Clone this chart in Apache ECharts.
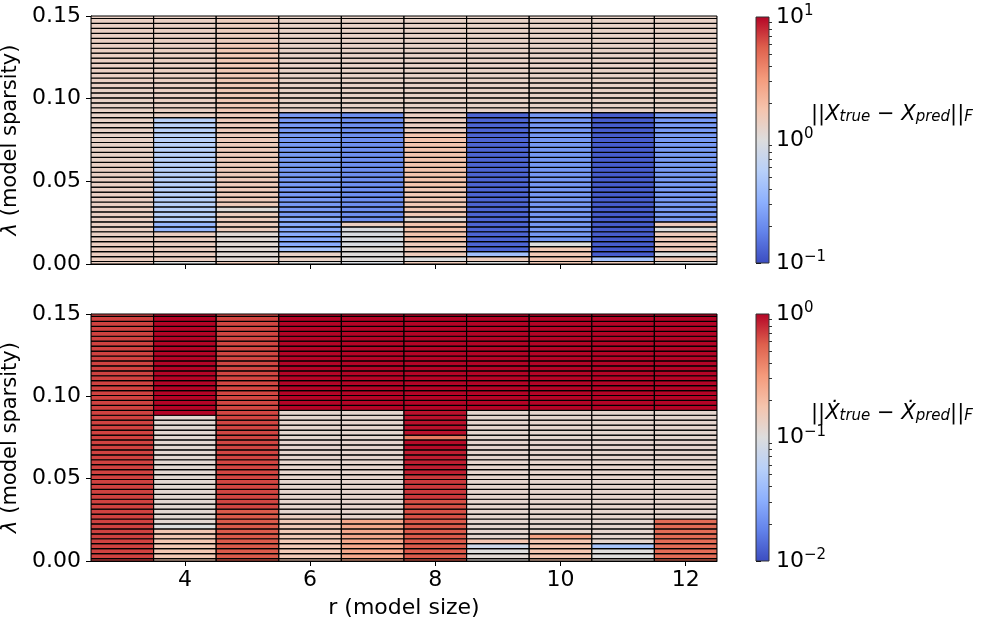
<!DOCTYPE html>
<html>
<head>
<meta charset="utf-8">
<script src="https://cdn.jsdelivr.net/npm/echarts@6/dist/echarts.min.js"></script>
<style>
  html, body { margin: 0; padding: 0; background: #fff; }
  #chart { width: 984px; height: 619px; }
</style>
</head>
<body>
<div id="chart"></div>
<script>
// model sizes (columns) and sparsity values (rows)
var rValues = [3, 4, 5, 6, 7, 8, 9, 10, 11, 12];
var lambdas = [0, 0.003, 0.006, 0.009, 0.012, 0.015, 0.018, 0.021, 0.024, 0.027,
  0.030, 0.033, 0.036, 0.039, 0.042, 0.045, 0.048, 0.051, 0.054, 0.057,
  0.060, 0.063, 0.066, 0.069, 0.072, 0.075, 0.078, 0.081, 0.084, 0.087,
  0.090, 0.093, 0.096, 0.099, 0.102, 0.105, 0.108, 0.111, 0.114, 0.117,
  0.120, 0.123, 0.126, 0.129, 0.132, 0.135, 0.138, 0.141, 0.144, 0.147, 0.150];

// ||X_true - X_pred||_F, one list per r: [first lambda index, last lambda index, error]
var errXRuns = [
  [[0, 4, 1.4], [5, 20, 1.35], [21, 35, 1.3], [36, 50, 1.35]],
  [[0, 0, 1.0], [1, 6, 1.4], [7, 8, 0.36], [9, 29, 0.56], [30, 50, 1.35]],
  [[0, 0, 1.5], [1, 6, 1.1], [7, 10, 1.45], [11, 11, 1.05], [12, 30, 1.5], [31, 44, 1.6], [45, 50, 1.45]],
  [[0, 0, 1.0], [1, 2, 1.3], [3, 3, 0.45], [4, 9, 0.3], [10, 30, 0.24], [31, 50, 1.3]],
  [[0, 0, 0.92], [1, 3, 1.05], [4, 7, 0.92], [8, 8, 1.4], [9, 30, 0.21], [31, 50, 1.3]],
  [[0, 0, 1.5], [1, 1, 1.0], [2, 4, 1.5], [5, 8, 1.75], [9, 9, 1.15], [10, 15, 1.6], [16, 26, 1.75], [27, 30, 1.4], [31, 50, 1.3]],
  [[0, 0, 1.0], [1, 1, 1.45], [2, 2, 0.42], [3, 30, 0.13], [31, 50, 1.3]],
  [[0, 3, 1.6], [4, 4, 1.0], [5, 30, 0.23], [31, 50, 1.3]],
  [[0, 0, 1.5], [1, 1, 0.45], [2, 30, 0.12], [31, 50, 1.3]],
  [[0, 0, 1.0], [1, 1, 1.5], [2, 2, 1.0], [3, 6, 1.5], [7, 7, 1.0], [8, 8, 1.5], [9, 30, 0.24], [31, 50, 1.3]]
];

// ||Xdot_true - Xdot_pred||_F, same layout
var errDXRuns = [
  [[0, 50, 0.68]],
  [[0, 6, 0.165], [7, 7, 0.1], [8, 29, 0.115], [30, 50, 1.0]],
  [[0, 10, 0.58], [11, 50, 0.66]],
  [[0, 8, 0.16], [9, 9, 0.14], [10, 30, 0.12], [31, 50, 1.0]],
  [[0, 8, 0.26], [9, 30, 0.12], [31, 50, 1.0]],
  [[0, 8, 0.58], [9, 12, 0.62], [13, 17, 0.72], [18, 22, 0.85], [23, 24, 0.95], [25, 25, 0.44], [26, 30, 0.92], [31, 50, 1.0]],
  [[0, 1, 0.11], [2, 2, 0.1], [3, 3, 0.08], [4, 4, 0.17], [5, 30, 0.12], [31, 50, 1.0]],
  [[0, 4, 0.17], [5, 5, 0.28], [6, 30, 0.12], [31, 50, 1.0]],
  [[0, 0, 0.115], [1, 2, 0.1], [3, 3, 0.046], [4, 30, 0.12], [31, 50, 1.0]],
  [[0, 8, 0.5], [9, 30, 0.12], [31, 50, 1.0]]
];

var xTicks = [4, 6, 8, 10, 12];
var yTicks = [0, 0.05, 0.10, 0.15];
var cbarTicksX = [-1, 0, 1];   // log10 of colour limits, top plot
var cbarTicksDX = [-2, -1, 0]; // bottom plot

var coolwarm = ['#3b4cc0', '#6282ea', '#8db0fe', '#b8d0f9', '#dddddd',
  '#f5c4ad', '#f49a7b', '#de604d', '#b40426'];

function buildCells(runs) {
  var out = [];
  runs.forEach(function (list, ci) {
    list.forEach(function (run) {
      for (var k = run[0]; k <= run[1]; k++) {
        out.push([rValues[ci], lambdas[k], Math.log10(run[2])]);
      }
    });
  });
  return out;
}

function minorTicks(lo, hi) {
  var t = [];
  for (var d = lo; d < hi; d++) {
    for (var m = 2; m <= 9; m++) t.push(d + Math.log10(m));
  }
  return t;
}

var chart = echarts.init(document.getElementById('chart'));
var FONT = 'DejaVu Sans';
var FS = 22;
var halfRow = 0.0015;

function renderCell(params, api) {
  var r = api.value(0), lam = api.value(1);
  var p0 = api.coord([r - 0.5, lam + halfRow]);
  var p1 = api.coord([r + 0.5, lam - halfRow]);
  var shape = echarts.graphic.clipRectByRect({
    x: p0[0], y: p0[1], width: p1[0] - p0[0], height: p1[1] - p0[1]
  }, params.coordSys);
  if (!shape) return;
  return {
    type: 'rect', shape: shape,
    style: { fill: api.visual('color'), stroke: '#000', lineWidth: 1.2 }
  };
}

function renderBar(params, api) {
  var cs = params.coordSys;
  var stops = coolwarm.map(function (c, i) { return { offset: i / (coolwarm.length - 1), color: c }; });
  return {
    type: 'rect',
    shape: { x: cs.x, y: cs.y, width: cs.width, height: cs.height },
    style: { fill: new echarts.graphic.LinearGradient(0, 1, 0, 0, stops), stroke: '#333', lineWidth: 1 }
  };
}

function supLabel(v) {
  var e = v < 0 ? '\u2212' + (-v) : '' + v;
  return '{b|10}{s|' + e + '}';
}
var supRich = {
  b: { fontFamily: FONT, fontSize: FS, color: '#000', lineHeight: 26 },
  s: { fontFamily: FONT, fontSize: 15, color: '#000', lineHeight: 12, verticalAlign: 'top' }
};

function heatX(grid, showLabels) {
  return {
    type: 'value', gridIndex: grid, min: 2.5, max: 12.5,
    axisLine: { show: true, lineStyle: { color: '#000', width: 1 } },
    axisTick: { show: true, length: 5, customValues: xTicks, lineStyle: { color: '#000' } },
    axisLabel: { show: showLabels, customValues: xTicks, margin: 8, fontFamily: FONT, fontSize: FS, color: '#000' },
    splitLine: { show: false },
    name: showLabels ? 'r (model size)' : '',
    nameLocation: 'middle', nameGap: 36,
    nameTextStyle: { fontFamily: FONT, fontSize: FS, color: '#000' }
  };
}
function heatY(grid) {
  return {
    type: 'value', gridIndex: grid, min: 0, max: 0.15,
    axisLine: { show: true, lineStyle: { color: '#000', width: 1 } },
    axisTick: { show: true, length: 5, customValues: yTicks, lineStyle: { color: '#000' } },
    axisLabel: { customValues: yTicks, margin: 10, fontFamily: FONT, fontSize: FS, color: '#000',
      formatter: function (v) { return v.toFixed(2); } },
    splitLine: { show: false },
    name: '{i|\u03bb}{n| (model sparsity)}',
    nameLocation: 'middle', nameGap: 54, nameRotate: 90,
    nameTextStyle: { rich: {
      i: { fontFamily: FONT, fontStyle: 'italic', fontSize: 21, color: '#000' },
      n: { fontFamily: FONT, fontSize: 21, color: '#000' } } }
  };
}
function barX(grid) {
  return { type: 'value', gridIndex: grid, min: 0, max: 1, show: false };
}
function barY(grid, lo, hi, ticks) {
  return {
    type: 'value', gridIndex: grid, min: lo, max: hi, position: 'right',
    axisLine: { show: false },
    axisTick: { show: true, length: 5, customValues: ticks, lineStyle: { color: '#000' } },
    axisLabel: { customValues: ticks, margin: 7, formatter: supLabel, rich: supRich },
    splitLine: { show: false }
  };
}
function barMinorY(grid, lo, hi) {
  return {
    type: 'value', gridIndex: grid, min: lo, max: hi, position: 'right',
    axisLine: { show: false },
    axisTick: { show: true, length: 3, customValues: minorTicks(lo, hi), lineStyle: { color: '#000', width: 0.8 } },
    axisLabel: { show: false },
    splitLine: { show: false }
  };
}

var subRich = {
  n: { fontFamily: FONT, fontSize: 21, color: '#000' },
  i: { fontFamily: FONT, fontStyle: 'italic', fontSize: 21, color: '#000' },
  sub: { fontFamily: FONT, fontStyle: 'italic', fontSize: 15, color: '#000', verticalAlign: 'bottom', lineHeight: 20 }
};

var option = {
  animation: false,
  backgroundColor: '#fff',
  grid: [
    { left: 91, top: 16, width: 626, height: 248, show: true, borderColor: '#000', borderWidth: 1, outerBoundsMode: 'none', containLabel: false },
    { left: 91, top: 314, width: 626, height: 247, show: true, borderColor: '#000', borderWidth: 1, outerBoundsMode: 'none', containLabel: false },
    { left: 756, top: 17, width: 13, height: 246, outerBoundsMode: 'none', containLabel: false },
    { left: 756, top: 314, width: 13, height: 247, outerBoundsMode: 'none', containLabel: false }
  ],
  xAxis: [heatX(0, false), heatX(1, true), barX(2), barX(3)],
  yAxis: [heatY(0), heatY(1),
    barY(2, -1, 1, cbarTicksX), barY(3, -2, 0, cbarTicksDX),
    barMinorY(2, -1, 1), barMinorY(3, -2, 0)],
  visualMap: [
    { show: false, type: 'continuous', min: -1, max: 1, dimension: 2, seriesIndex: 0, inRange: { color: coolwarm } },
    { show: false, type: 'continuous', min: -2, max: 0, dimension: 2, seriesIndex: 1, inRange: { color: coolwarm } }
  ],
  series: [
    { type: 'custom', xAxisIndex: 0, yAxisIndex: 0, renderItem: renderCell, data: buildCells(errXRuns), clip: true },
    { type: 'custom', xAxisIndex: 1, yAxisIndex: 1, renderItem: renderCell, data: buildCells(errDXRuns), clip: true },
    { type: 'custom', xAxisIndex: 2, yAxisIndex: 2, renderItem: renderBar, data: [[0.5, 0]], silent: true },
    { type: 'custom', xAxisIndex: 3, yAxisIndex: 3, renderItem: renderBar, data: [[0.5, -1]], silent: true }
  ],
  graphic: [
    { type: 'text', left: 811, top: 104, style: {
      text: '{n|||}{i|X}{sub|true}{n| \u2212 }{i|X}{sub|pred}{n|||}{sub|F}', rich: subRich } },
    { type: 'text', left: 811, top: 403, style: {
      text: '{n|||}{i|\u1E8A}{sub|true}{n| \u2212 }{i|\u1E8A}{sub|pred}{n|||}{sub|F}', rich: subRich } }
  ]
};

chart.setOption(option);
</script>
</body>
</html>
